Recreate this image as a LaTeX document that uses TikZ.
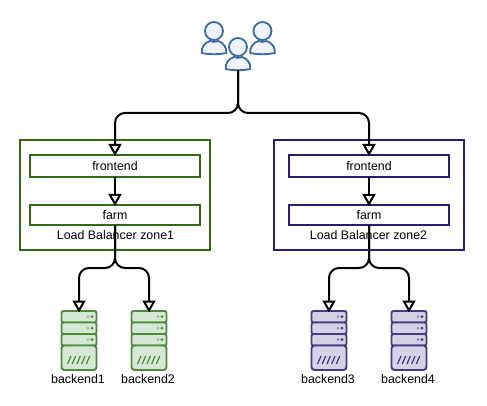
\documentclass[tikz,border=0pt]{standalone}
\usepackage{fontspec}
\setmainfont{Liberation Sans}
\usetikzlibrary{arrows.meta}
\definecolor{zgreen}{HTML}{2D6A12}
\definecolor{zpurple}{HTML}{2F1B6E}
\definecolor{sgreen}{HTML}{4F8A3C}
\definecolor{fgreen}{HTML}{D5E8D4}
\definecolor{spurple}{HTML}{46397F}
\definecolor{fpurple}{HTML}{D6D2E6}
\definecolor{ublue}{HTML}{3A6AA0}
\definecolor{ufill}{HTML}{EFF3FA}
\tikzset{
  x=1pt,y=-1pt,
  zonebox/.style={draw,line width=2pt,minimum width=190pt,minimum height=110pt,anchor=north west,inner sep=0pt,outer sep=0pt,fill=white},
  innerbox/.style={draw,line width=2pt,fill=white,anchor=north west,inner sep=0pt,outer sep=0pt,font=\fontsize{12.4}{14}\selectfont},
  lbl/.style={inner sep=0pt,font=\fontsize{12.4}{14}\selectfont,anchor=center},
  link/.style={line width=2pt,rounded corners=10pt,-{Triangle[fill=white,length=12pt,width=13pt,line width=2pt]}},
  srvhit/.style={minimum width=36pt,minimum height=59pt,inner sep=0pt,outer sep=0pt,anchor=center,rectangle},
}
\newcommand{\person}[2]{% x, head y
  \begin{scope}[shift={(#1,#2)}]
    \draw[ublue,fill=ufill,line width=1.8pt] (-12.3,22) .. controls (-13,16) and (-9,11.5) .. (-4,10) .. controls (-1.5,11.2) and (1.5,11.2) .. (4,10) .. controls (9,11.5) and (13,16) .. (12.3,22) .. controls (6,23.6) and (-6,23.6) .. (-12.3,22) -- cycle;
    \draw[ublue,fill=ufill,line width=1.8pt] (0,0) circle (9);
  \end{scope}
}
\newcommand{\server}[5]{% x-center, top y, stroke, fill, node name
  \begin{scope}[shift={(#1,#2)}]
    \foreach \ya/\yb in {0/11.5,11.5/23,23/34.5}{
      \draw[#3,fill=#4,line width=1.9pt,rounded corners=2pt] (-17.5,\ya) rectangle (17.5,\yb);
      \fill[#3,opacity=.45] (9,\ya+5.7) circle (1.5);
      \fill[#3] (13,\ya+5.7) circle (1.5);
    }
    \draw[#3,fill=#4,line width=1.9pt,rounded corners=3pt] (-17.5,34.5) rectangle (17.5,59);
    \foreach \i in {0,1,2,3,4}{
      \draw[#3,line width=1.2pt] (-11.5+\i*4.7,53) -- (-8+\i*4.7,45);
    }
  \end{scope}
  \node[srvhit] (#5) at (#1,340.5) {};
}
\begin{document}
\begin{tikzpicture}
\useasboundingbox (0,0) rectangle (487,406);

% zones
\node[zonebox,draw=zgreen] (zone1) at (20,140) {};
\node[zonebox,draw=zpurple] (zone2) at (274,140) {};

\node[innerbox,draw=zgreen,minimum width=170pt,minimum height=22pt] (fe1) at (30,155) {frontend};
\node[innerbox,draw=zgreen,minimum width=170pt,minimum height=20pt] (fa1) at (30,205) {farm};
\node[innerbox,draw=zpurple,minimum width=160pt,minimum height=22pt] (fe2) at (289,155) {frontend};
\node[innerbox,draw=zpurple,minimum width=160pt,minimum height=20pt] (fa2) at (289,205) {farm};

% users
\person{214}{31}
\person{262.5}{31}
\person{238}{47}
\coordinate (users) at (238,70);

% servers
\server{79}{311}{sgreen}{fgreen}{b1}
\server{149}{311}{sgreen}{fgreen}{b2}
\server{329}{311}{spurple}{fpurple}{b3}
\server{409}{311}{spurple}{fpurple}{b4}

% connectors
\draw[link] (users) -- ++(0,43) -| ([yshift=-1pt]fe1.north);
\draw[link] (users) -- ++(0,43) -| ([yshift=-1pt]fe2.north);
\draw[link] (fe1.south) -- ([yshift=-1pt]fa1.north);
\draw[link] (fe2.south) -- ([yshift=-1pt]fa2.north);
\coordinate (j1) at (115,268);
\coordinate (j2) at (369,268);
\draw[link] (fa1.south) -- (j1) -| ([yshift=-1.5pt]b1.north);
\draw[link] (fa1.south) -- (j1) -| ([yshift=-1.5pt]b2.north);
\draw[link] (fa2.south) -- (j2) -| ([yshift=-1.5pt]b3.north);
\draw[link] (fa2.south) -- (j2) -| ([yshift=-1.5pt]b4.north);

% labels
\node[lbl] (z1l) at (115.5,235) {Load Balancer zone1};
\node[lbl] (z2l) at (368.5,235) {Load Balancer zone2};
\node[lbl] (l1) at (78,379) {backend1};
\node[lbl] (l2) at (148,379) {backend2};
\node[lbl] (l3) at (328,379) {backend3};
\node[lbl] (l4) at (408,379) {backend4};
\end{tikzpicture}
\end{document}
